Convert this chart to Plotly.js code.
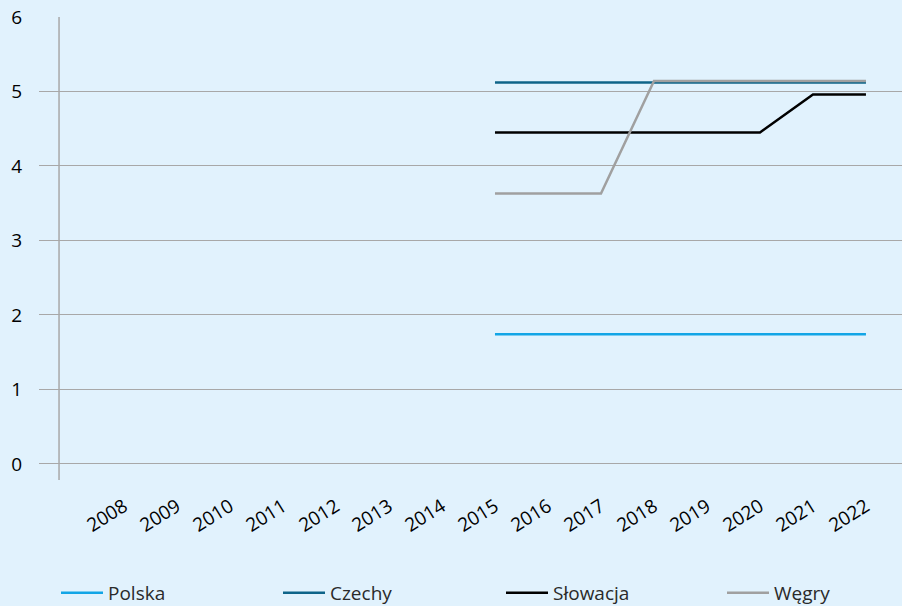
<!DOCTYPE html>
<html>
<head>
<meta charset="utf-8">
<script src="https://cdn.plot.ly/plotly-3.0.1.min.js"></script>
<style>html,body{margin:0;padding:0;background:#e1f2fd;}#chart{width:902px;height:606px;}</style>
</head>
<body>
<div id="chart"></div>
<script>
const years = ["2008","2009","2010","2011","2012","2013","2014","2015","2016","2017","2018","2019","2020","2021","2022"];
const polska   = [null,null,null,null,null,null,null,1.74,1.74,1.74,1.74,1.74,1.74,1.74,1.74];
const czechy   = [null,null,null,null,null,null,null,5.12,5.12,5.12,5.12,5.12,5.12,5.12,5.12];
const slowacja = [null,null,null,null,null,null,null,4.45,4.45,4.45,4.45,4.45,4.45,4.96,4.96];
const wegry    = [null,null,null,null,null,null,null,3.63,3.63,3.63,5.14,5.14,5.14,5.14,5.14];
const seriesNames = ["Polska","Czechy","Słowacja","Węgry"];
const colors = ["#12a5e6","#0e6489","#000000","#a0a0a0"];

const idx = years.map((_, i) => i);
const allData = [polska, czechy, slowacja, wegry];
const legendIds = ["legend","legend2","legend3","legend4"];
const traces = allData.map((d, k) => ({
  x: idx, y: d, type: 'scatter', mode: 'lines', name: seriesNames[k],
  line: {color: colors[k], width: 2.5}, connectgaps: false, legend: legendIds[k]
}));

const font = {family: "'Open Sans', 'DejaVu Sans', sans-serif", color: '#000', size: 19};
const layout = {
  width: 902, height: 606,
  paper_bgcolor: '#e1f2fd', plot_bgcolor: '#e1f2fd',
  margin: {l: 39, r: 0, t: 17, b: 126},
  font: font,
  showlegend: true,
  xaxis: {
    range: [-1.604, 14.68], tickvals: idx, ticktext: years, tickangle: -32,
    showgrid: false, zeroline: false, showline: false, ticks: '',
    tickfont: {size: 19, color: '#000'}, ticklabelstandoff: 11, fixedrange: true
  },
  yaxis: {
    range: [-0.215, 6], tickvals: [0,1,2,3,4,5,6], showgrid: true,
    gridcolor: '#a8a8a8', gridwidth: 1, zeroline: false, showline: false, ticks: '',
    tickfont: {size: 19, color: '#000'}, ticklabelstandoff: 16
  },
  shapes: [{
    type: 'line', xref: 'x', yref: 'y', x0: -1.226, x1: -1.226, y0: -0.215, y1: 6,
    line: {color: '#a8a8a8', width: 1.5}, layer: 'below'
  }]
};
const legendX = [56, 278, 501, 722];
legendIds.forEach((id, k) => {
  layout[id] = {
    orientation: 'h', xref: 'container', yref: 'container',
    x: legendX[k] / 902, y: 1 - 593 / 606, xanchor: 'left', yanchor: 'middle',
    itemwidth: 42,
    font: {size: 19, color: '#2a2a2a'}, bgcolor: 'rgba(0,0,0,0)'
  };
});
Plotly.newPlot('chart', traces, layout, {displayModeBar: false, staticPlot: true});
</script>
</body>
</html>
